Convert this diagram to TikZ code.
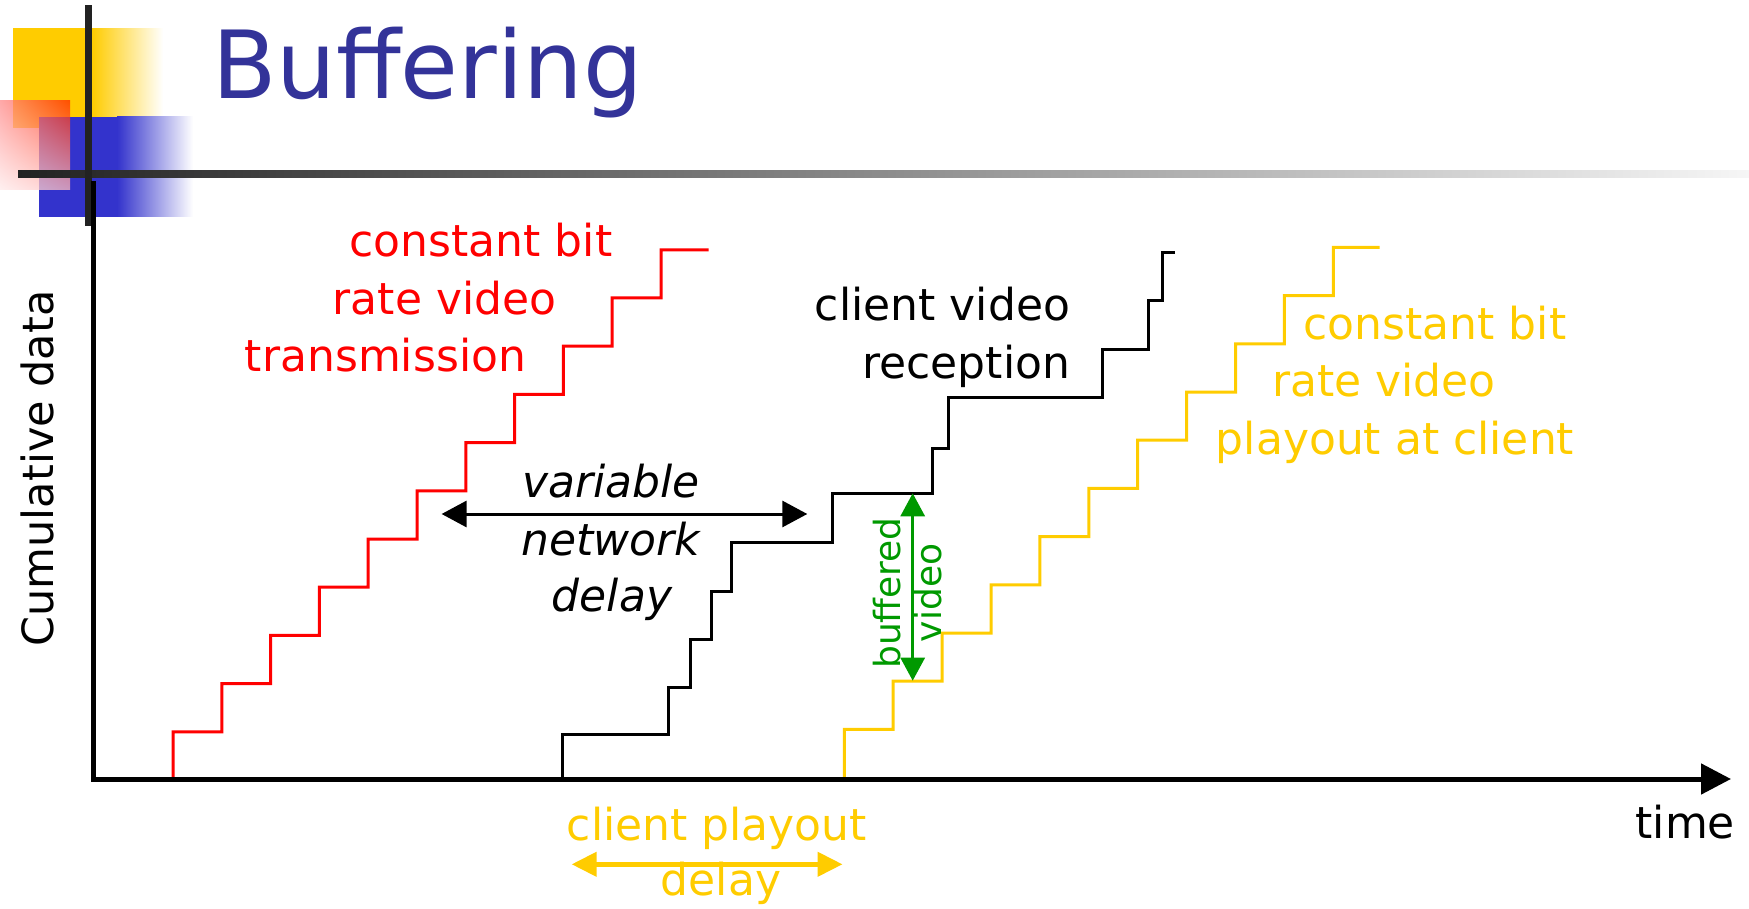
\documentclass[tikz,border=0pt]{standalone}
\usepackage{fontspec}
\setmainfont{DejaVu Sans}
\usetikzlibrary{arrows.meta,shadings}
\definecolor{cbred}{RGB}{255,0,0}
\definecolor{cbyel}{RGB}{255,204,0}
\definecolor{cbgreen}{RGB}{0,153,0}
\definecolor{titleblue}{RGB}{51,51,153}
\definecolor{decoblue}{RGB}{51,51,204}
\definecolor{decoyellow}{RGB}{255,204,0}
\definecolor{decored}{RGB}{255,40,0}
\definecolor{decopink}{RGB}{255,140,140}
\definecolor{decolight}{RGB}{255,235,235}
\definecolor{tmplgray}{RGB}{34,34,34}
\definecolor{tmpllight}{RGB}{246,246,246}
\begin{document}
\begin{tikzpicture}[x=1pt,y=-1pt,
  lbl/.style={inner sep=0pt, outer sep=0pt, font=\fontsize{44}{53}\selectfont},
  italbl/.style={lbl, font=\fontsize{44}{53}\selectfont\itshape},
  greenlbl/.style={inner sep=0pt, outer sep=0pt, text=cbgreen, font=\fontsize{36}{42}\selectfont, rotate=90, anchor=base},
  titlestyle/.style={inner sep=0pt, outer sep=0pt, text=titleblue, font=\fontsize{94}{110}\selectfont},
  stair/.style={line width=3pt, line join=miter},
  axisline/.style={line width=5pt, line join=miter, -{Triangle[length=30pt,width=30pt]}},
  delayarrow/.style={line width=3pt, {Triangle[length=25pt,width=26pt]}-{Triangle[length=25pt,width=26pt]}},
  bufarrow/.style={line width=3pt, cbgreen, {Triangle[length=23pt,width=24pt]}-{Triangle[length=23pt,width=24pt]}},
  playarrow/.style={line width=4.5pt, cbyel, {Triangle[length=25pt,width=24pt]}-{Triangle[length=25pt,width=24pt]}}
]
\useasboundingbox (0,0) rectangle (1749,909);

% template decoration
\fill[decoyellow] (12.7,28.3) rectangle (92,127.7);
\shade[left color=decoyellow,right color=white] (92,28.3) rectangle (163,127.7);
\fill[decoblue] (39,116.7) rectangle (117,216.7);
\shade[left color=decoblue,right color=white] (117,116.7) rectangle (193,216.7);
\shade[upper right=decored, upper left=decopink, lower right=decopink!60!white, lower left=decolight, fill opacity=0.75] (0,101) rectangle (70,190);
\shade[left color=tmplgray, right color=tmpllight] (18,171) rectangle (1749,177.7);
\fill[tmplgray] (85,5) rectangle (91.7,226);

% title
\node[titlestyle, anchor=base west] (title) at (212,98.3) {Buffering};

% red: constant bit rate video transmission
\draw[stair, cbred] (173,779)
  foreach \i in {0,...,9} { -- ({173+48.8*\i},{731.8-48.2*\i}) -- ({173+48.8*(\i+1)},{731.8-48.2*\i}) }
  -- (661,249.8) -- (708.7,249.8);

% black: client video reception
\draw[stair, black] (562,779) -- (562,734) -- (668,734) -- (668,687) -- (690,687) -- (690,639)
  -- (711,639) -- (711,591) -- (731,591) -- (731,542) -- (832.5,542) -- (832.5,493.5)
  -- (932.5,493.5) -- (932.5,448) -- (948,448) -- (948,397.5) -- (1102,397.5) -- (1102,349.5)
  -- (1148,349.5) -- (1148,301) -- (1162,301) -- (1162,253) -- (1175,253);

% yellow: playout at client
\draw[stair, cbyel] (844.3,779)
  foreach \i in {0,...,9} { -- ({844.3+48.9*\i},{729.4-48.2*\i}) -- ({844.3+48.9*(\i+1)},{729.4-48.2*\i}) }
  -- (1333.3,247.4) -- (1379.5,247.4);

% axes
\coordinate (yaxtop) at (93,181);
\coordinate (origin) at (93,779);
\coordinate (xaxend) at (1731,779);
\draw[axisline] (yaxtop) -- (origin) -- (xaxend);

% labels
\node[lbl, rotate=90, anchor=base, font=\fontsize{43}{52}\selectfont] (ylabel) at (53,468.5) {Cumulative data};
\node[lbl, anchor=base east] (timelbl) at (1735,838) {time};

\node[lbl, text=cbred, anchor=base] (red1) at (481,257) {constant bit};
\node[lbl, text=cbred, anchor=base] (red2) at (444.5,314.3) {rate video};
\node[lbl, text=cbred, anchor=base] (red3) at (385.5,371.7) {transmission};

\node[lbl, anchor=base east] (blk1) at (1070,320.6) {client video};
\node[lbl, anchor=base east] (blk2) at (1070,378) {reception};

\node[lbl, text=cbyel, anchor=base] (yel1) at (1435,339.3) {constant bit};
\node[lbl, text=cbyel, anchor=base] (yel2) at (1384,396) {rate video};
\node[lbl, text=cbyel, anchor=base] (yel3) at (1395,454) {playout at client};

\node[italbl, anchor=base] (var1) at (611,497.5) {variable};
\node[italbl, anchor=base] (var2) at (611,555) {network};
\node[italbl, anchor=base] (var3) at (612,611.4) {delay};

\node[lbl, text=cbyel, anchor=base] (play1) at (717,840) {client playout};
\node[lbl, text=cbyel, anchor=base] (play2) at (721,895) {delay};

\node[greenlbl] (buf1) at (900,593) {buffered};
\node[greenlbl] (buf2) at (941,593) {video};

% arrows
\coordinate (delL) at (441.6,514);
\coordinate (delR) at (807.3,514);
\draw[delayarrow] (delL) -- (delR);
\coordinate (bufTop) at (912.7,493.3);
\coordinate (bufBot) at (912.7,680.7);
\draw[bufarrow] (bufTop) -- (bufBot);
\coordinate (playL) at (571.7,864.3);
\coordinate (playR) at (842.5,864.3);
\draw[playarrow] (playL) -- (playR);
\end{tikzpicture}
\end{document}
